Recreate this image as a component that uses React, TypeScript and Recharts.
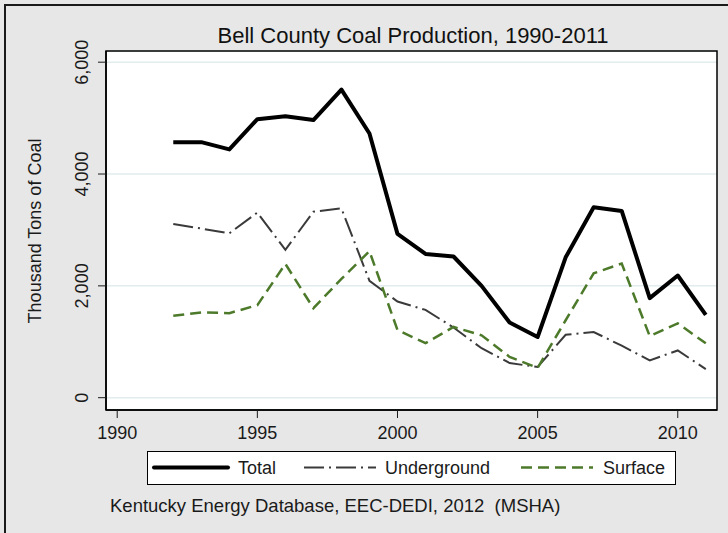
import React from 'react';
import {
  LineChart,
  Line,
  XAxis,
  YAxis,
  CartesianGrid,
  ReferenceArea,
  Legend,
} from 'recharts';

const years = [1992, 1993, 1994, 1995, 1996, 1997, 1998, 1999, 2000, 2001, 2002, 2003, 2004, 2005, 2006, 2007, 2008, 2009, 2010, 2011];
const total = [4570, 4570, 4440, 4980, 5035, 4965, 5510, 4725, 2930, 2570, 2525, 2000, 1345, 1085, 2510, 3405, 3340, 1780, 2185, 1480];
const underground = [3105, 3025, 2940, 3310, 2645, 3325, 3385, 2090, 1720, 1570, 1255, 885, 620, 548, 1125, 1175, 930, 668, 845, 512];
const surface = [1465, 1525, 1512, 1655, 2393, 1600, 2125, 2620, 1210, 975, 1265, 1115, 730, 535, 1385, 2225, 2400, 1100, 1330, 972];

const seriesNames = ['Total', 'Underground', 'Surface'];
const xTicks = [1990, 1995, 2000, 2005, 2010];
const yTicks = [0, 2000, 4000, 6000];

const title = 'Bell County Coal Production, 1990-2011';
const yTitle = 'Thousand Tons of Coal';
const note = 'Kentucky Energy Database, EEC-DEDI, 2012  (MSHA)';

const data = years.map((year, i) => ({
  year,
  Total: total[i],
  Underground: underground[i],
  Surface: surface[i],
}));

const FONT = '"Liberation Sans", Arial, sans-serif';
const BG = '#e7e7e7';

const fmt = (v: number) => String(v).replace(/\B(?=(\d{3})+(?!\d))/g, ',');

const YTick = (props: any) => {
  const { x, y, payload } = props;
  return (
    <text
      x={x}
      y={y}
      transform={`rotate(-90, ${x}, ${y})`}
      textAnchor="middle"
      fontSize={18}
      fontFamily={FONT}
      fill="#1a1a1a"
    >
      {fmt(payload.value)}
    </text>
  );
};

const legendLayout = [
  { x1: 6, x2: 80, tx: 90 },
  { x1: 156, x2: 228, tx: 237 },
  { x1: 373, x2: 445, tx: 455 },
];

const LegendBox = (props: any) => {
  const payload = [...(props.payload || [])].sort(
    (a: any, b: any) => seriesNames.indexOf(a.value) - seriesNames.indexOf(b.value)
  );
  return (
    <div
      style={{
        width: 529,
        height: 34,
        background: '#fff',
        border: '1.5px solid #000',
        boxSizing: 'border-box',
      }}
    >
      <svg width={526} height={31} style={{ display: 'block' }}>
        {payload.map((p: any, i: number) => {
          const l = legendLayout[i];
          if (!l) return null;
          const sw = p.payload?.strokeWidth ?? 2;
          const dash = p.payload?.strokeDasharray;
          return (
            <g key={p.value}>
              <line
                x1={l.x1}
                x2={l.x2}
                y1={15.5}
                y2={15.5}
                stroke={p.color}
                strokeWidth={sw}
                strokeDasharray={dash}
                strokeLinecap={dash ? 'butt' : 'round'}
              />
              <text x={l.tx} y={22} fontSize={18} fontFamily={FONT} fill="#1a1a1a">
                {p.value}
              </text>
            </g>
          );
        })}
      </svg>
    </div>
  );
};

export default function App() {
  return (
    <div
      style={{
        position: 'absolute',
        left: 0,
        top: 0,
        width: 728,
        height: 533,
        background: BG,
        overflow: 'hidden',
        fontFamily: FONT,
      }}
    >
      <div
        style={{
          position: 'absolute',
          left: 4,
          top: 4,
          width: 800,
          height: 600,
          borderLeft: '2px solid #1a1a1a',
          borderTop: '2px solid #1a1a1a',
        }}
      />
      <div style={{ position: 'absolute', left: 0, top: 0 }}>
        <LineChart
          width={728}
          height={533}
          data={data}
          margin={{ top: 51, right: 11, bottom: 83, left: 66 }}
        >
          <CartesianGrid
            horizontal
            vertical={false}
            stroke="#e2ebee"
            strokeWidth={1.5}
            fill="#ffffff"
            fillOpacity={1}
          />
          <XAxis
            dataKey="year"
            type="number"
            domain={[1989.6, 2011.4]}
            ticks={xTicks}
            allowDataOverflow
            height={40}
            tickSize={8}
            tickMargin={8}
            axisLine={{ stroke: '#000', strokeWidth: 1.5 }}
            tickLine={{ stroke: '#1a1a1a', strokeWidth: 1 }}
            tick={{ fontSize: 18, fontFamily: FONT, fill: '#1a1a1a' }}
          />
          <YAxis
            type="number"
            domain={[-220, 6200]}
            ticks={yTicks}
            allowDataOverflow
            width={40}
            tickSize={8}
            tickMargin={10}
            axisLine={{ stroke: '#000', strokeWidth: 1.5 }}
            tickLine={{ stroke: '#1a1a1a', strokeWidth: 1 }}
            tick={<YTick />}
          />
          <ReferenceArea
            x1={1989.6}
            x2={2011.4}
            y1={-220}
            y2={6200}
            ifOverflow="visible"
            fill="none"
            fillOpacity={0}
            stroke="#000"
            strokeWidth={1.5}
          />
          <Legend
            layout="horizontal"
            verticalAlign="middle"
            align="center"
            wrapperStyle={{ position: 'absolute', left: 147, top: 451, width: 529, height: 34 }}
            content={<LegendBox />}
          />
          <Line
            type="linear"
            dataKey="Total"
            stroke="#000000"
            strokeWidth={4}
            strokeLinejoin="round"
            dot={false}
            activeDot={false}
            isAnimationActive={false}
          />
          <Line
            type="linear"
            dataKey="Underground"
            stroke="#3a3a3a"
            strokeWidth={2}
            strokeDasharray="20 5 2 5"
            dot={false}
            activeDot={false}
            isAnimationActive={false}
          />
          <Line
            type="linear"
            dataKey="Surface"
            stroke="#4c7a2a"
            strokeWidth={2.5}
            strokeDasharray="11 6"
            dot={false}
            activeDot={false}
            isAnimationActive={false}
          />
        </LineChart>
      </div>
      <svg
        width={728}
        height={533}
        style={{ position: 'absolute', left: 0, top: 0, pointerEvents: 'none' }}
      >
        <text x={413} y={43} textAnchor="middle" fontSize={22} fontFamily={FONT} fill="#111">
          {title}
        </text>
        <text
          x={41}
          y={231}
          transform="rotate(-90, 41, 231)"
          textAnchor="middle"
          fontSize={18}
          fontFamily={FONT}
          fill="#1a1a1a"
        >
          {yTitle}
        </text>
        <text x={110} y={512} fontSize={18.5} fontFamily={FONT} fill="#1a1a1a" xmlSpace="preserve" style={{ whiteSpace: 'pre' }}>
          {note}
        </text>
      </svg>
    </div>
  );
}
